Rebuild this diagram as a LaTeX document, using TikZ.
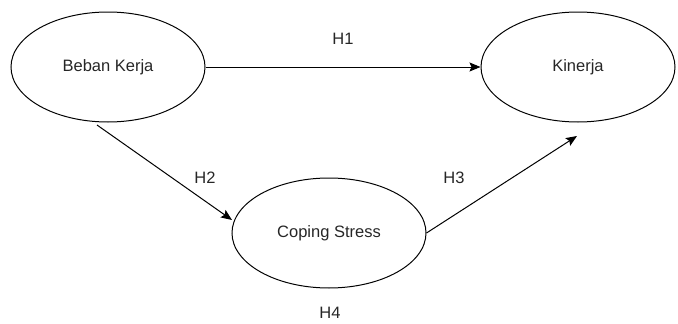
\documentclass[tikz,border=0pt]{standalone}
\usepackage{fontspec}
\setmainfont{Liberation Sans}
\usetikzlibrary{arrows.meta,shapes.geometric}
\begin{document}
\begin{tikzpicture}[x=1pt,y=-1pt,
  every node/.style={font=\fontsize{16.5}{19}\selectfont, text=black!85},
  var/.style={draw=black, line width=1pt, ellipse, inner sep=0pt, minimum width=194pt, minimum height=110pt},
  lbl/.style={inner sep=0pt},
  link/.style={draw=black, line width=1pt, -{Stealth[length=11pt,width=9pt,inset=2pt]}}]
\useasboundingbox (0,0) rectangle (678,324);
\node[var] (beban) at (108,67) {Beban Kerja};
\node[var] (kinerja) at (578,67) {Kinerja};
\node[var] (coping) at (329,233) {Coping Stress};
\coordinate (h2s) at (97,125);
\coordinate (h2e) at (232,220);
\coordinate (h3e) at (577,136);
\draw[link] (beban.east) -- (kinerja.west);
\draw[link] (h2s) -- (h2e);
\draw[link] (coping.east) -- (h3e);
\node[lbl] (l1) at (343,39) {H1};
\node[lbl] (l2) at (205,178) {H2};
\node[lbl] (l3) at (454,178) {H3};
\node[lbl] (l4) at (330,313) {H4};
\end{tikzpicture}
\end{document}
